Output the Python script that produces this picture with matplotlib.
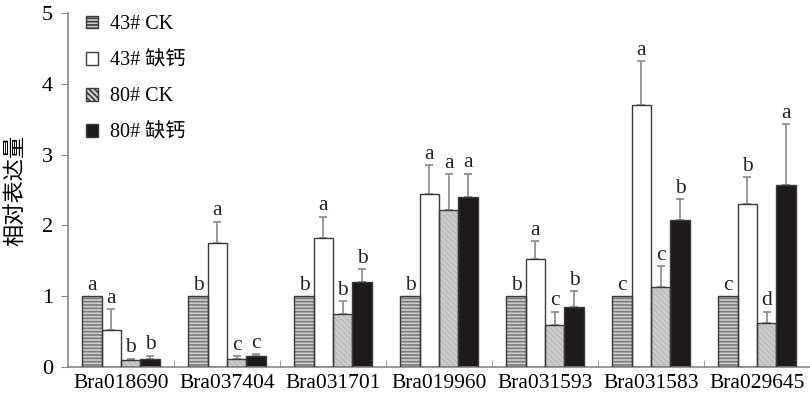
import numpy as np
import matplotlib
matplotlib.use("Agg")
import matplotlib.pyplot as plt
from matplotlib.patches import Patch

plt.rcParams['font.family'] = ['Liberation Serif', 'Noto Sans CJK SC']
plt.rcParams['hatch.linewidth'] = 1.2

genes = ["Bra018690", "Bra037404", "Bra031701", "Bra019960", "Bra031593", "Bra031583", "Bra029645"]
series_names = ["43# CK", "43# 缺钙", "80# CK", "80# 缺钙"]

ck43 = [1, 1, 1, 1, 1, 1, 1]
ca43 = [0.52, 1.75, 1.82, 2.45, 1.52, 3.70, 2.30]
ck80 = [0.10, 0.12, 0.75, 2.22, 0.60, 1.13, 0.62]
ca80 = [0.12, 0.15, 1.20, 2.40, 0.85, 2.07, 2.57]

err_ck43 = [0, 0, 0, 0, 0, 0, 0]
err_ca43 = [0.30, 0.30, 0.30, 0.40, 0.26, 0.62, 0.38]
err_ck80 = [0.02, 0.03, 0.18, 0.50, 0.18, 0.29, 0.16]
err_ca80 = [0.04, 0.03, 0.18, 0.33, 0.22, 0.30, 0.86]

letters = [
    ["a", "b", "b", "b", "b", "c", "c"],
    ["a", "a", "a", "a", "a", "a", "b"],
    ["b", "c", "b", "a", "c", "c", "d"],
    ["b", "c", "b", "a", "b", "b", "a"],
]

values = [ck43, ca43, ck80, ca80]
errors = [err_ck43, err_ca43, err_ck80, err_ca80]

# face colour, hatch, hatch colour
styles = [
    ("#cfcfcf", "-----", "#7a7a7a"),
    ("white", None, "white"),
    ("#cdcdcd", "\\\\\\\\\\\\", "#bcbcbc"),
    ("#1e1a1a", None, "#1e1a1a"),
]

fig = plt.figure(figsize=(8.1, 4.0), dpi=100)
ax = fig.add_axes([0.084, 0.0825, 0.916, 0.885])

x = np.arange(len(genes))
width = 0.182
offsets = [-1.5 * width, -0.5 * width, 0.5 * width, 1.5 * width]

for i in range(4):
    face, hatch, hcol = styles[i]
    pos = x + offsets[i]
    ax.bar(pos, values[i], width, color=face, edgecolor=hcol, hatch=hatch,
           linewidth=0, zorder=2)
    ax.bar(pos, values[i], width, fill=False, edgecolor="#3a3a3a",
           linewidth=1.0, zorder=3)
    errs = np.array(errors[i])
    has = errs > 0
    ax.errorbar(pos[has], np.array(values[i])[has],
                yerr=[np.zeros(has.sum()), errs[has]],
                fmt="none", ecolor="#888888", elinewidth=1.2, capsize=3,
                capthick=1.2, zorder=1)
    for j in range(len(genes)):
        top = values[i][j] + errors[i][j]
        ax.text(pos[j], top + 0.02, letters[i][j], ha="center", va="bottom",
                fontsize=15.5, color="#222222")

ax.set_xlim(-0.5, 6.5)
ax.set_ylim(0, 5)
ax.set_yticks([0, 1, 2, 3, 4, 5])
ax.set_xticks(x)
ax.set_xticklabels(genes, fontsize=15.5)
ax.set_xticks(np.arange(0.5, 6.5, 1), minor=True)
ax.tick_params(axis="x", which="major", length=0, pad=5)
ax.tick_params(axis="x", which="minor", direction="in", length=5, color="#888888")
ax.tick_params(axis="y", direction="out", length=5, color="#888888", labelsize=16, pad=6)

for s in ["top", "right"]:
    ax.spines[s].set_visible(False)
for s in ["left", "bottom"]:
    ax.spines[s].set_color("#888888")
    ax.spines[s].set_linewidth(1.2)

ax.set_ylabel("相对表达量", fontsize=16, labelpad=10)

handles = []
for i in range(4):
    face, hatch, hcol = styles[i]
    handles.append(Patch(facecolor=face, edgecolor="#3a3a3a", hatch=hatch, linewidth=1.0))
ax.legend(handles, series_names, loc="upper left", bbox_to_anchor=(0.0, 1.045),
          frameon=False, fontsize=14.5, handlelength=0.6, handleheight=0.6,
          handletextpad=0.6, labelspacing=0.85)

fig.savefig("out.png", dpi=100)
